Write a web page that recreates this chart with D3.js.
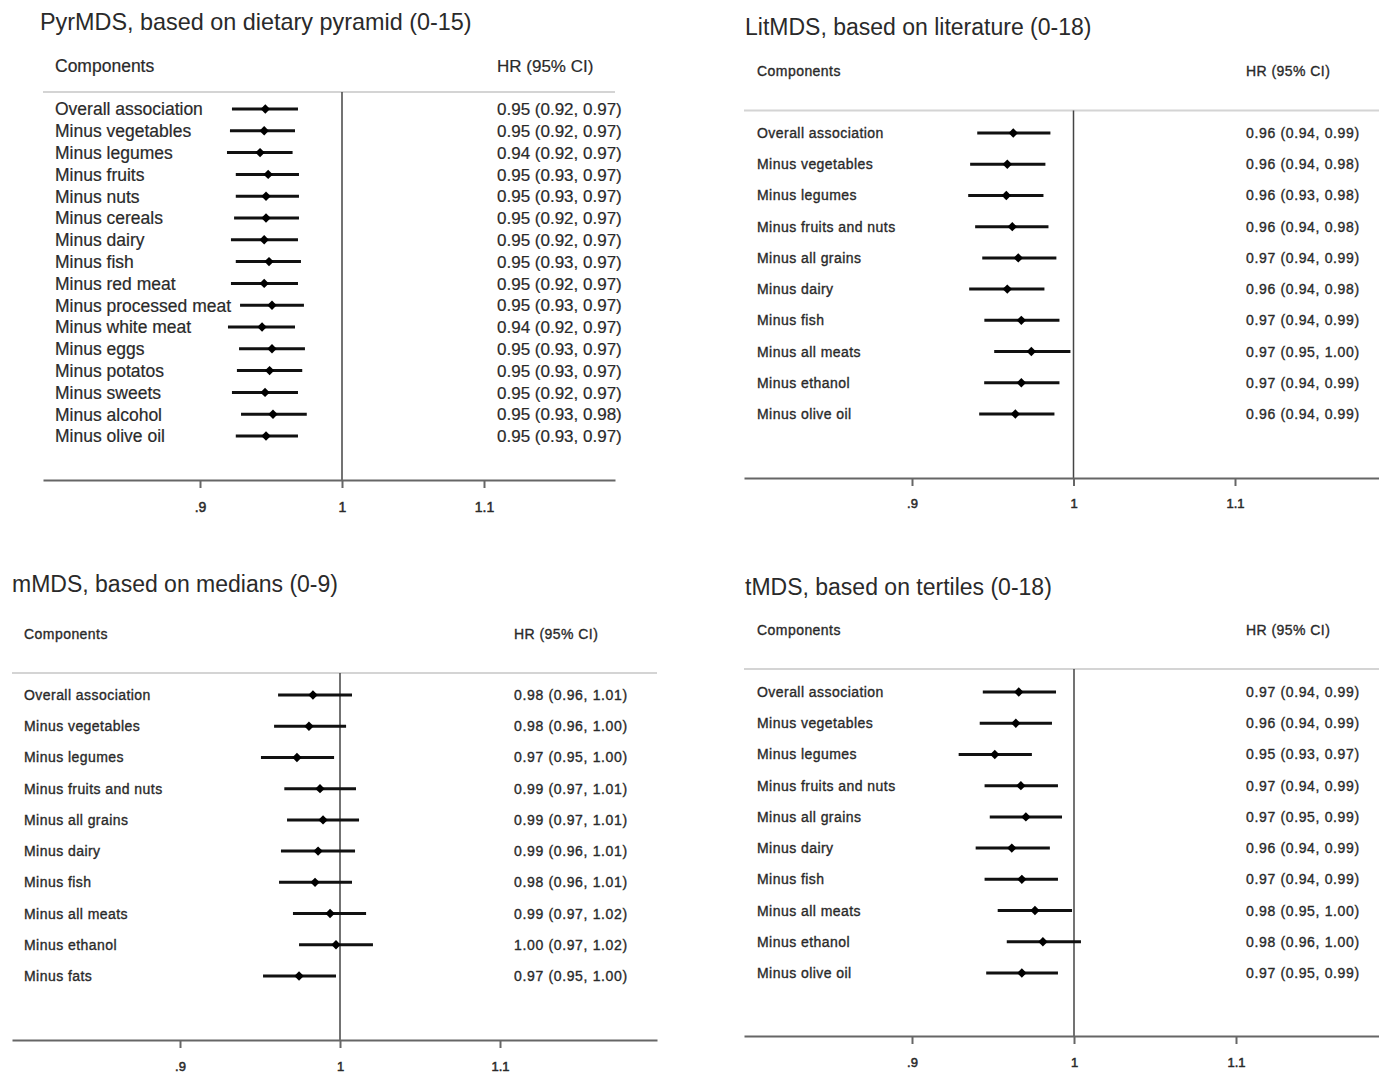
<!DOCTYPE html>
<html>
<head>
<meta charset="utf-8">
<style>
  body { margin: 0; background: #fff; }
  svg text { font-family: Arial, "Liberation Sans", sans-serif; fill: #2a2a2a; }
</style>
</head>
<body>
<div id="chart"></div>
<script src="https://d3js.org/d3.v7.min.js"></script>
<script>
// ---- data ----
const tickValues = [0.9, 1, 1.1]
const tickLabels = [".9", "1", "1.1"]

const pyrLabels = ["Overall association", "Minus vegetables", "Minus legumes", "Minus fruits",
  "Minus nuts", "Minus cereals", "Minus dairy", "Minus fish", "Minus red meat",
  "Minus processed meat", "Minus white meat", "Minus eggs", "Minus potatos",
  "Minus sweets", "Minus alcohol", "Minus olive oil"]
const pyrHR = [0.946, 0.9452, 0.9423, 0.948, 0.9465, 0.9465, 0.9452, 0.9486, 0.9452,
  0.9507, 0.9437, 0.9507, 0.949, 0.9458, 0.9514, 0.9465]
const pyrLo = [0.9225, 0.9211, 0.919, 0.9252, 0.9252, 0.924, 0.9218, 0.9252, 0.9218,
  0.9282, 0.9197, 0.9275, 0.926, 0.9225, 0.9289, 0.9252]
const pyrHi = [0.969, 0.9669, 0.9652, 0.9697, 0.9697, 0.9697, 0.969, 0.9711, 0.969,
  0.9732, 0.9669, 0.9739, 0.972, 0.969, 0.9752, 0.969]

const litLabels = ["Overall association", "Minus vegetables", "Minus legumes",
  "Minus fruits and nuts", "Minus all grains", "Minus dairy", "Minus fish",
  "Minus all meats", "Minus ethanol", "Minus olive oil"]
const litHR = [0.9627, 0.959, 0.9584, 0.9621, 0.9658, 0.959, 0.9677, 0.9739, 0.9677, 0.964]
const litLo = [0.9404, 0.936, 0.9348, 0.9391, 0.9435, 0.9354, 0.9448, 0.9509, 0.9447, 0.9416]
const litHi = [0.9857, 0.9826, 0.9814, 0.9845, 0.9894, 0.982, 0.9913, 0.9981, 0.9913, 0.9882]

const medLabels = ["Overall association", "Minus vegetables", "Minus legumes",
  "Minus fruits and nuts", "Minus all grains", "Minus dairy", "Minus fish",
  "Minus all meats", "Minus ethanol", "Minus fats"]
const medHR = [0.9831, 0.9806, 0.9731, 0.9875, 0.9894, 0.9863, 0.9844, 0.9938, 0.9975, 0.9744]
const medLo = [0.9613, 0.9588, 0.9506, 0.9652, 0.9669, 0.9631, 0.9619, 0.9706, 0.9744, 0.9519]
const medHi = [1.0075, 1.0038, 0.9963, 1.01, 1.0119, 1.0094, 1.0075, 1.0163, 1.0206, 0.9975]

const terLabels = ["Overall association", "Minus vegetables", "Minus legumes",
  "Minus fruits and nuts", "Minus all grains", "Minus dairy", "Minus fish",
  "Minus all meats", "Minus ethanol", "Minus olive oil"]
const terHR = [0.9659, 0.9641, 0.9511, 0.9672, 0.9703, 0.9616, 0.9678, 0.9759, 0.9808, 0.9678]
const terLo = [0.9437, 0.9418, 0.9288, 0.9448, 0.948, 0.9393, 0.9448, 0.9529, 0.9585, 0.9458]
const terHi = [0.9889, 0.9864, 0.974, 0.9901, 0.9926, 0.9851, 0.9901, 0.9988, 1.0043, 0.9901]

const width = 1379
const height = 1074

const svg = d3.select("#chart").append("svg")
  .attr("width", width).attr("height", height)

const fmt = d3.format(".2f")

const panels = [
  { title: "PyrMDS, based on dietary pyramid (0-15)", labels: pyrLabels, hr: pyrHR, lo: pyrLo, hi: pyrHi,
    titleX: 40, titleY: 30, titleSize: 23.4, headY: 72, labelSize: 17.5, hrSize: 17, spacing: 0, hrSpacing: 0, weight: 0.2,
    labelX: 55, hrX: 497, sepY: 92, left: 43, right: 615, x09: 200, x11: 484,
    rowTop: 109, rowBottom: 436, axisY: 480, tickY: 512, tickSize: 14 },
  { title: "LitMDS, based on literature (0-18)", labels: litLabels, hr: litHR, lo: litLo, hi: litHi,
    titleX: 745, titleY: 35, titleSize: 23, headY: 76, labelSize: 14, hrSize: 14, spacing: 0.45, hrSpacing: 0.65, weight: 0.35,
    labelX: 757, hrX: 1246, sepY: 110.5, left: 744, right: 1379, x09: 912, x11: 1235,
    rowTop: 133, rowBottom: 414, axisY: 478, tickY: 508, tickSize: 13 },
  { title: "mMDS, based on medians (0-9)", labels: medLabels, hr: medHR, lo: medLo, hi: medHi,
    titleX: 12, titleY: 592, titleSize: 23, headY: 639, labelSize: 14, hrSize: 14, spacing: 0.45, hrSpacing: 0.65, weight: 0.35,
    labelX: 24, hrX: 514, sepY: 673, left: 12, right: 657, x09: 180, x11: 500,
    rowTop: 695, rowBottom: 976, axisY: 1040, tickY: 1071, tickSize: 13 },
  { title: "tMDS, based on tertiles (0-18)", labels: terLabels, hr: terHR, lo: terLo, hi: terHi,
    titleX: 745, titleY: 595, titleSize: 23, headY: 635, labelSize: 14, hrSize: 14, spacing: 0.45, hrSpacing: 0.65, weight: 0.35,
    labelX: 757, hrX: 1246, sepY: 669, left: 744, right: 1379, x09: 912, x11: 1236,
    rowTop: 692, rowBottom: 973, axisY: 1036, tickY: 1067, tickSize: 13 }
]

// Stata's text looks a little heavier than plain Arial
const heavy = (sel, w) => sel.attr("stroke", "#2a2a2a").attr("stroke-width", w)

const drawPanel = (p) => {
  const g = svg.append("g")

  // x scale: .9 and 1.1 fixed, then stretched out to the axis ends
  const x = d3.scaleLinear().domain([0.9, 1.1]).range([p.x09, p.x11])
  x.domain([x.invert(p.left), x.invert(p.right)]).range([p.left, p.right])

  const y = d3.scalePoint().domain(p.labels).range([p.rowTop, p.rowBottom])

  g.append("text")
    .attr("x", p.titleX).attr("y", p.titleY)
    .style("font-size", p.titleSize + "px")
    .attr("fill", "#333")
    .text(p.title)

  g.append("text")
    .attr("x", p.labelX).attr("y", p.headY)
    .style("font-size", p.labelSize + "px")
    .style("letter-spacing", p.spacing + "px")
    .call(heavy, p.weight)
    .text("Components")
  g.append("text")
    .attr("x", p.hrX).attr("y", p.headY)
    .style("font-size", p.hrSize + "px")
    .style("letter-spacing", p.spacing + "px")
    .call(heavy, p.weight)
    .text("HR (95% CI)")

  g.append("line")
    .attr("x1", p.left).attr("x2", p.right)
    .attr("y1", p.sepY).attr("y2", p.sepY)
    .attr("stroke", "#d4d4d4").attr("stroke-width", 2)

  // reference line at HR = 1
  g.append("line")
    .attr("x1", x(1)).attr("x2", x(1))
    .attr("y1", p.sepY).attr("y2", p.axisY)
    .attr("stroke", "#444").attr("stroke-width", 1.5)

  const axis = d3.axisBottom(x)
    .tickValues(tickValues)
    .tickFormat((d, i) => tickLabels[i])
    .tickSizeInner(8)
    .tickSizeOuter(0)
    .tickPadding(0)
  const ax = g.append("g")
    .attr("transform", "translate(0," + p.axisY + ")")
    .call(axis)
  ax.select(".domain").attr("stroke", "#666").attr("stroke-width", 2)
  ax.selectAll(".tick line").attr("stroke", "#666").attr("stroke-width", 2)
  ax.selectAll(".tick text")
    .attr("y", p.tickY - p.axisY)
    .attr("dy", null)
    .style("font-size", p.tickSize + "px")
    .style("font-family", "Arial, 'Liberation Sans', sans-serif")
    .attr("fill", "#2a2a2a")
    .call(heavy, 0.5)

  const rows = p.labels.map((d, i) => ({ label: d, hr: p.hr[i], lo: p.lo[i], hi: p.hi[i] }))

  g.selectAll(".lab")
    .data(rows)
    .enter()
    .append("text")
    .attr("x", p.labelX)
    .attr("y", d => y(d.label))
    .attr("dy", "0.36em")
    .style("font-size", p.labelSize + "px")
    .style("letter-spacing", p.spacing + "px")
    .call(heavy, p.weight)
    .text(d => d.label)

  g.selectAll(".hrtext")
    .data(rows)
    .enter()
    .append("text")
    .attr("x", p.hrX)
    .attr("y", d => y(d.label))
    .attr("dy", "0.36em")
    .style("font-size", p.hrSize + "px")
    .style("letter-spacing", p.hrSpacing + "px")
    .call(heavy, p.weight)
    .text(d => fmt(d.hr) + " (" + fmt(d.lo) + ", " + fmt(d.hi) + ")")

  g.selectAll(".ci")
    .data(rows)
    .enter()
    .append("line")
    .attr("x1", d => x(d.lo)).attr("x2", d => x(d.hi))
    .attr("y1", d => y(d.label)).attr("y2", d => y(d.label))
    .attr("stroke", "#111").attr("stroke-width", 3)

  g.selectAll(".pt")
    .data(rows)
    .enter()
    .append("path")
    .attr("d", d3.symbol(d3.symbolDiamond2, 56))
    .attr("transform", d => "translate(" + x(d.hr) + "," + y(d.label) + ")")
    .attr("fill", "#000")
}

panels.forEach(drawPanel)
</script>
</body>
</html>
